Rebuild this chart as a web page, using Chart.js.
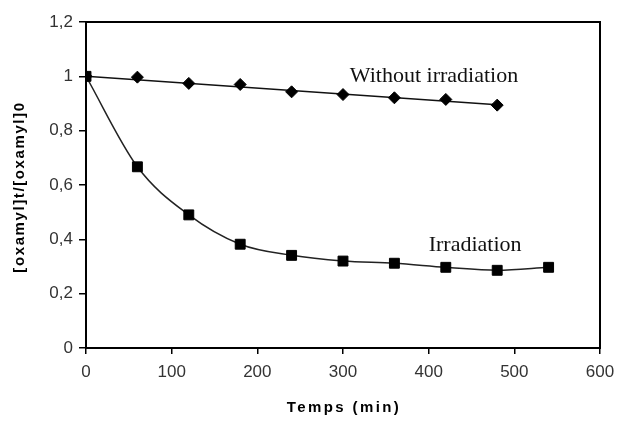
<!DOCTYPE html>
<html>
<head>
<meta charset="utf-8">
<script src="https://cdn.jsdelivr.net/npm/chart.js@4.4.1/dist/chart.umd.min.js"></script>
<style>
  html, body { margin: 0; padding: 0; background: #ffffff; }
  #wrap { width: 618px; height: 427px; }
</style>
</head>
<body>
<div id="wrap"><canvas id="c" width="618" height="427"></canvas></div>
<script>
// ---- data ----
const timeNoIrr = [0, 60, 120, 180, 240, 300, 360, 420, 480];
const ratioNoIrr = [1.0, 0.997, 0.974, 0.97, 0.943, 0.933, 0.921, 0.915, 0.894];

const trendTime = [0, 480];
const trendRatio = [1.0, 0.895];

const timeIrr = [0, 60, 120, 180, 240, 300, 360, 420, 480, 540];
const ratioIrr = [1.0, 0.667, 0.49, 0.382, 0.341, 0.32, 0.312, 0.297, 0.286, 0.297];

const xTicks = [0, 100, 200, 300, 400, 500, 600];
const yTicks = [0, 0.2, 0.4, 0.6, 0.8, 1.0, 1.2];

const xTitle = 'Temps (min)';
const yTitle = '[oxamyl]t/[oxamyl]0';

const seriesLabels = ['Without irradiation', 'Irradiation'];
const labelAnchorTime = [308, 400];
const labelAnchorRatio = [0.979, 0.357];

// ---- build chart ----
const toXY = (xs, ys) => xs.map((x, i) => ({ x: x, y: ys[i] }));

const frameAndText = {
  id: 'frameAndText',
  afterDatasetsDraw(chart) {
    const { ctx, chartArea: a, scales } = chart;
    ctx.save();
    ctx.strokeStyle = '#000';
    ctx.lineWidth = 2;
    ctx.strokeRect(a.left, a.top, a.right - a.left, a.bottom - a.top);
    ctx.fillStyle = '#111';
    ctx.font = '22px "Liberation Serif", "Times New Roman", serif';
    ctx.textAlign = 'left';
    ctx.textBaseline = 'alphabetic';
    seriesLabels.forEach((t, i) => {
      ctx.fillText(t, scales.x.getPixelForValue(labelAnchorTime[i]),
                      scales.y.getPixelForValue(labelAnchorRatio[i]));
    });
    ctx.restore();
  },
  afterDraw(chart) {
    const { ctx, chartArea: a } = chart;
    ctx.save();
    ctx.fillStyle = '#000';
    ctx.font = 'bold 15px "Liberation Sans", Arial, sans-serif';
    ctx.textAlign = 'center';
    ctx.textBaseline = 'middle';
    try { ctx.letterSpacing = '2.4px'; } catch (e) {}
    ctx.fillText(xTitle, (a.left + a.right) / 2 + 1, 408);
    try { ctx.letterSpacing = '1.6px'; } catch (e) {}
    ctx.translate(20, (a.top + a.bottom) / 2 + 2);
    ctx.rotate(-Math.PI / 2);
    ctx.fillText(yTitle, 0, 0);
    ctx.restore();
  }
};

new Chart(document.getElementById('c'), {
  type: 'line',
  data: {
    datasets: [
      {
        label: 'trend',
        data: toXY(trendTime, trendRatio),
        borderColor: '#111',
        borderWidth: 1.5,
        pointRadius: 0,
        fill: false,
        order: 3
      },
      {
        label: seriesLabels[0],
        data: toXY(timeNoIrr, ratioNoIrr),
        showLine: false,
        pointStyle: 'rectRot',
        pointRadius: 6,
        pointBackgroundColor: '#000',
        pointBorderColor: '#000',
        pointBorderWidth: 1,
        order: 2
      },
      {
        label: seriesLabels[1],
        data: toXY(timeIrr, ratioIrr),
        borderColor: '#222',
        borderWidth: 1.5,
        cubicInterpolationMode: 'monotone',
        pointStyle: 'rect',
        pointRadius: 7,
        pointBackgroundColor: '#000',
        pointBorderColor: '#000',
        pointBorderWidth: 1,
        fill: false,
        order: 1
      }
    ]
  },
  options: {
    responsive: false,
    animation: false,
    events: [],
    layout: { padding: { top: 22, right: 18, left: 0, bottom: 0 } },
    plugins: { legend: { display: false }, tooltip: { enabled: false } },
    scales: {
      x: {
        type: 'linear',
        min: 0, max: 600,
        afterBuildTicks: (s) => { s.ticks = xTicks.map(v => ({ value: v })); },
        afterFit: (s) => { s.height = 79; s.paddingRight = 0; s.paddingLeft = 0; },
        grid: { display: true, drawOnChartArea: false, drawTicks: true, tickLength: 6, color: '#000', lineWidth: 1.5 },
        border: { display: true, color: '#000', width: 2 },
        ticks: {
          padding: 8,
          color: '#333',
          font: { family: '"Liberation Sans", Arial, sans-serif', size: 17 },
          maxRotation: 0,
          callback: (v) => String(v)
        },
        title: { display: false }
      },
      y: {
        type: 'linear',
        min: 0, max: 1.2,
        afterBuildTicks: (s) => { s.ticks = yTicks.map(v => ({ value: v })); },
        afterFit: (s) => { s.width = 86; s.paddingTop = 0; s.paddingBottom = 0; },
        grid: { display: true, drawOnChartArea: false, drawTicks: true, tickLength: 7, color: '#000', lineWidth: 1.5 },
        border: { display: true, color: '#000', width: 2 },
        ticks: {
          padding: 6,
          color: '#333',
          font: { family: '"Liberation Sans", Arial, sans-serif', size: 17 },
          callback: (v) => String(Math.round(v * 10) / 10).replace('.', ',')
        },
        title: { display: false }
      }
    }
  },
  plugins: [frameAndText]
});
</script>
</body>
</html>
